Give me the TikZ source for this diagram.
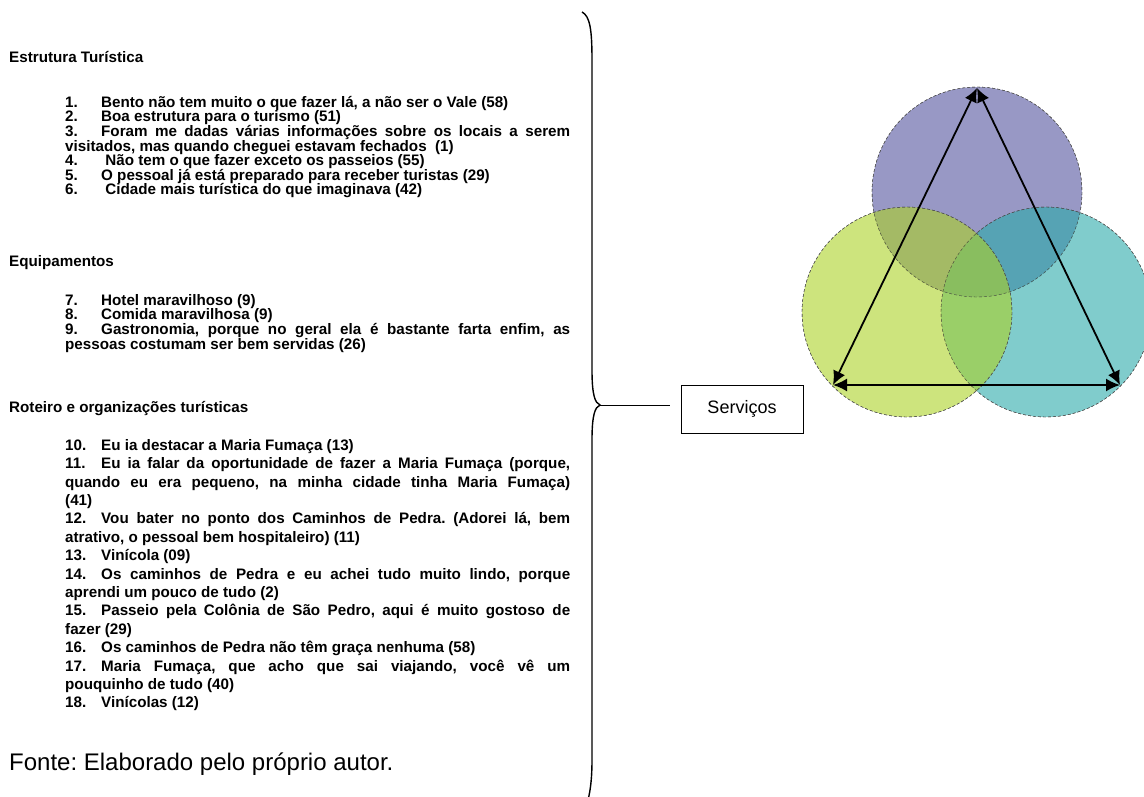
\documentclass[tikz,border=0pt]{standalone}
\usepackage{fontspec}
\setmainfont{Liberation Sans}
\usepackage{xcolor}
\usetikzlibrary{positioning,calc,arrows.meta}
\definecolor{topviolet}{RGB}{83,83,158}
\definecolor{leftlime}{RGB}{172,210,38}
\definecolor{rightteal}{RGB}{43,170,170}
\lineskiplimit=-20pt
\frenchspacing
\tikzstyle{head} = [anchor=base west,inner sep=0pt,font=\fontsize{15.2}{15}\selectfont\bfseries]
\tikzstyle{item} = [anchor=north west,inner sep=0pt,text width=505pt,align=justify]
\tikzstyle{ring} = [draw=black!70,densely dashed,thin,fill opacity=0.6]
\tikzstyle{link} = [{Latex[length=14pt,width=13pt]}-{Latex[length=14pt,width=13pt]},line width=1.8pt]
\newcommand{\nr}[1]{\makebox[36pt][l]{#1}}
\newcommand{\listfont}[1]{\fontsize{15.2}{#1}\selectfont\bfseries}

\begin{document}
\begin{tikzpicture}[x=1pt,y=-1pt]
    \useasboundingbox (0,0) rectangle (1144,796);
    % left column
    \node[head] (est) at (9,62) {Estrutura Turística};
    \node[item,font=\listfont{14.6}] (l1) at (65,96) {\nr{1.}Bento não tem muito o que fazer lá, a não ser o Vale (58)\\
        \nr{2.}Boa estrutura para o turismo (51)\\
        \nr{3.}Foram me dadas várias informações sobre os locais a serem\linebreak
        visitados, mas quando cheguei estavam fechados~~(1)\\
        \nr{4.}~Não tem o que fazer exceto os passeios (55)\\
        \nr{5.}O pessoal já está preparado para receber turistas (29)\\
        \nr{6.}~Cidade mais turística do que imaginava (42)};
    \node[head] (equ) at (9,266) {Equipamentos};
    \node[item,font=\listfont{14.3}] (l2) at (65,294) {\nr{7.}Hotel maravilhoso (9)\\
        \nr{8.}Comida maravilhosa (9)\\
        \nr{9.}Gastronomia, porque no geral ela é bastante farta enfim, as\linebreak
        pessoas costumam ser bem servidas (26)};
    \node[head] (rot) at (9,412) {Roteiro e organizações turísticas};
    \node[item,font=\listfont{18.4}] (l3) at (65,439) {\nr{10.}Eu ia destacar a Maria Fumaça (13)\\
        \nr{11.}Eu ia falar da oportunidade de fazer a Maria Fumaça (porque,\linebreak
        quando eu era pequeno, na minha cidade tinha Maria Fumaça)\linebreak
        (41)\\
        \nr{12.}Vou bater no ponto dos Caminhos de Pedra. (Adorei lá, bem\linebreak
        atrativo, o pessoal bem hospitaleiro) (11)\\
        \nr{13.}Vinícola (09)\\
        \nr{14.}Os caminhos de Pedra e eu achei tudo muito lindo, porque\linebreak
        aprendi um pouco de tudo (2)\\
        \nr{15.}Passeio pela Colônia de São Pedro, aqui é muito gostoso de\linebreak
        fazer (29)\\
        \nr{16.}Os caminhos de Pedra não têm graça nenhuma (58)\\
        \nr{17.}Maria Fumaça, que acho que sai viajando, você vê um\linebreak
        pouquinho de tudo (40)\\
        \nr{18.}Vinícolas (12)};
    \node[anchor=base west,inner sep=0pt,font=\fontsize{24}{28}\selectfont] (fonte) at (9,770) {Fonte: Elaborado pelo próprio autor.};
    % brace and box
    \coordinate (tip) at (600,405);
    \draw[line width=1.4pt] (582,12) .. controls (590,16) and (592,30) .. (592,60) -- (592,370)
        .. controls (592,395) and (595,403) .. (tip)
        .. controls (595,407) and (592,415) .. (592,440) -- (592,760)
        .. controls (592,785) and (589,800) .. (584,812);
    \node[draw,line width=0.9pt,minimum width=122pt,minimum height=48pt,font=\fontsize{18}{20}\selectfont] (srv) at (742,409) {Serviços};
    \draw[line width=0.9pt,shorten >=11pt] (tip) -- (srv.west |- tip);
    % circles
    \begin{scope}
        \clip (0,0) rectangle (1144,796);
        \fill[ring,fill=topviolet] (977,192) circle (105);
        \fill[ring,fill=rightteal] (1046,312) circle (105);
        \fill[ring,fill=leftlime] (907,312) circle (105);
        \draw[ring] (977,192) circle (105);
        \draw[ring] (1046,312) circle (105);
        \draw[ring] (907,312) circle (105);
    \end{scope}
    \coordinate (apex) at (977,88);
    \coordinate (cl) at (833,385);
    \coordinate (cr) at (1120,385);
    \draw[link] (apex) -- (cl);
    \draw[link] (apex) -- (cr);
    \draw[link] (cl) -- (cr);
\end{tikzpicture}
\end{document}
